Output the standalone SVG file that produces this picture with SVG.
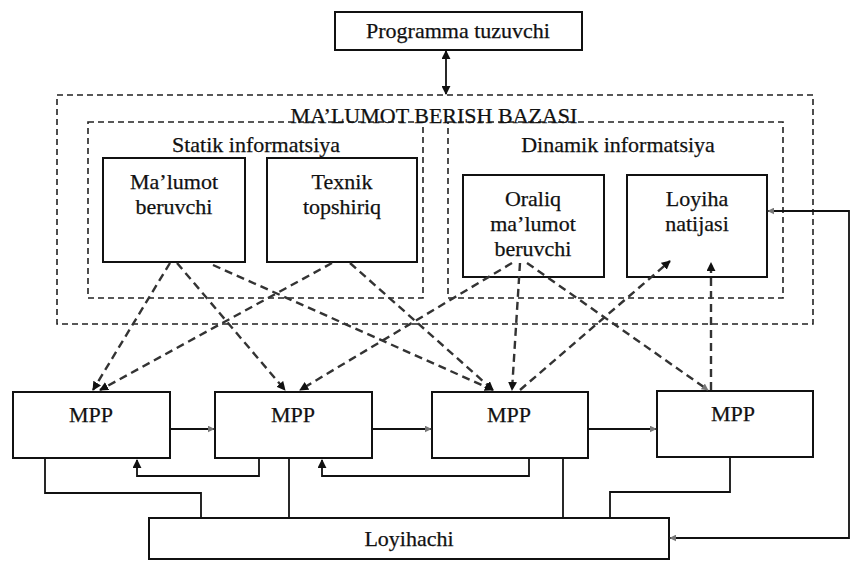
<svg xmlns="http://www.w3.org/2000/svg" width="851" height="561" viewBox="0 0 851 561">
<style>
text{font-family:"Liberation Serif","Times New Roman",serif;font-size:22px;fill:#111;stroke:#111;stroke-width:0.25;text-anchor:middle}
.box{fill:#fff;stroke:#111;stroke-width:2}
.frame{fill:none;stroke:#222;stroke-width:1.6;stroke-dasharray:6 4}
.solid{fill:none;stroke:#111;stroke-width:1.8}
.dash{fill:none;stroke:#333;stroke-width:2.4;stroke-dasharray:8 5}
</style>
<defs>
<marker id="ah" viewBox="0 0 10 10" refX="9" refY="5" markerWidth="9" markerHeight="9" markerUnits="userSpaceOnUse" orient="auto-start-reverse"><path d="M0,0 L10,5 L0,10 z" fill="#111"/></marker>
<marker id="ahg" viewBox="0 0 10 10" refX="9" refY="5" markerWidth="7" markerHeight="7" markerUnits="userSpaceOnUse" orient="auto-start-reverse"><path d="M0,0 L10,5 L0,10 z" fill="#777"/></marker>
</defs>
<rect width="851" height="561" fill="#fff"/>
<g id="frames">
<rect class="frame" x="57" y="95" width="756" height="229"/>
<rect class="frame" x="88" y="122" width="335" height="176"/>
<rect class="frame" x="448" y="122" width="335" height="176"/>
<text x="434" y="123">MA’LUMOT BERISH BAZASI</text>
<text x="256" y="152">Statik informatsiya</text>
<text x="618" y="152">Dinamik informatsiya</text>
</g>
<g id="prog"><rect class="box" x="335" y="12" width="247" height="38"/><text x="458" y="38">Programma tuzuvchi</text></g>
<g id="malumot"><rect class="box" x="103" y="158" width="142" height="104"/><text x="174" y="189">Ma’lumot</text><text x="174" y="214">beruvchi</text></g>
<g id="texnik"><rect class="box" x="267" y="158" width="150" height="104"/><text x="342" y="189">Texnik</text><text x="342" y="214">topshiriq</text></g>
<g id="oraliq"><rect class="box" x="463" y="175" width="141" height="102"/><text x="533" y="206">Oraliq</text><text x="533" y="231">ma’lumot</text><text x="533" y="256">beruvchi</text></g>
<g id="natija"><rect class="box" x="627" y="175" width="140" height="102"/><text x="697" y="206">Loyiha</text><text x="697" y="231">natijasi</text></g>
<g id="mpp1"><rect class="box" x="13" y="392" width="157" height="66"/><text x="91" y="422">MPP</text></g>
<g id="mpp2"><rect class="box" x="215" y="392" width="157" height="66"/><text x="293" y="422">MPP</text></g>
<g id="mpp3"><rect class="box" x="432" y="392" width="156" height="66"/><text x="509" y="422">MPP</text></g>
<g id="mpp4"><rect class="box" x="657" y="391" width="156" height="66"/><text x="733" y="421">MPP</text></g>
<g id="loyihachi"><rect class="box" x="149" y="518" width="520" height="41"/><text x="409" y="546">Loyihachi</text></g>
<g id="connectors">
<line class="solid" x1="446" y1="51" x2="446" y2="94" marker-start="url(#ah)" marker-end="url(#ah)"/>
<line class="dash" x1="170" y1="263" x2="93" y2="390" marker-end="url(#ah)"/>
<line class="dash" x1="332" y1="263" x2="100" y2="390" marker-end="url(#ah)"/>
<line class="dash" x1="177" y1="263" x2="285" y2="390" marker-end="url(#ah)"/>
<line class="dash" x1="512" y1="263" x2="300" y2="390" marker-end="url(#ah)"/>
<line class="dash" x1="213" y1="265" x2="493" y2="390" marker-end="url(#ah)"/>
<line class="dash" x1="350" y1="263" x2="493" y2="390" marker-end="url(#ah)"/>
<line class="dash" x1="520" y1="263" x2="512" y2="390" marker-end="url(#ah)"/>
<line class="dash" x1="527" y1="263" x2="708" y2="390" marker-end="url(#ahg)"/>
<line class="dash" x1="520" y1="390" x2="670" y2="261" marker-end="url(#ah)"/>
<line class="dash" x1="711" y1="390" x2="711" y2="263" marker-end="url(#ah)"/>
<line class="solid" x1="170" y1="429" x2="214" y2="429" marker-end="url(#ahg)"/>
<line class="solid" x1="372" y1="429" x2="431" y2="429" marker-end="url(#ahg)"/>
<line class="solid" x1="588" y1="429" x2="656" y2="429" marker-end="url(#ahg)"/>
<polyline class="solid" points="45,458 45,493 201,493 201,518"/>
<line class="solid" x1="289" y1="458" x2="289" y2="518"/>
<polyline class="solid" points="259,458 259,476 137,476 137,460" marker-end="url(#ah)"/>
<polyline class="solid" points="529,458 529,476 322,476 322,460" marker-end="url(#ah)"/>
<line class="solid" x1="563" y1="458" x2="563" y2="518"/>
<polyline class="solid" points="730,457 730,492 610,492 610,518"/>
<polyline class="solid" points="768,211 849,211 849,538 670,538" marker-start="url(#ahg)" marker-end="url(#ahg)"/>
</g>
</svg>
